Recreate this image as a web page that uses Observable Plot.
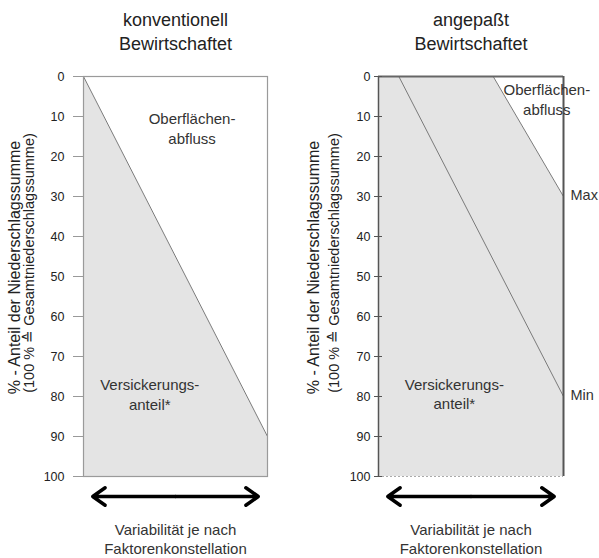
<!DOCTYPE html>
<html><head><meta charset="utf-8">
<script src="https://cdn.jsdelivr.net/npm/d3@7"></script>
<script src="https://cdn.jsdelivr.net/npm/@observablehq/plot@0.6"></script>
<style>
body{margin:0;background:#fff}
#chart{display:flex;width:599px;height:558px}
</style>
</head><body><div id="chart"></div>
<script>
// ---- data ----
const yTicks = d3.range(0, 101, 10);
const panelTitles = ["konventionell\nBewirtschaftet", "angepaßt\nBewirtschaftet"];
const yLabelLines = ["% - Anteil der Niederschlagssumme", "(100 % \u2259 Gesamtniederschlagssumme)"];
const xCaption = "Variabilität je nach\nFaktorenkonstellation";

// left panel: conventional management – boundary between infiltration and runoff
const konvX = [0, 1];
const konvY = [0, 90];

// right panel: adapted management – min and max boundaries
const minX = [0.11, 1];
const minY = [0, 80];
const maxX = [0.62, 1];
const maxY = [0, 30];
const boundLabels = ["Min", "Max"];

// variability arrow
const arrowEnds = [0.05, 0.95];
const arrowLevel = 105;

// area labels
const leftLabelText = ["Oberflächen-\nabfluss", "Versickerungs-\nanteil*"];
const leftLabelX = [0.59, 0.36];
const leftLabelY = [12.75, 79.25];
const rightLabelText = ["Oberflächen-\nabfluss", "Versickerungs-\nanteil*"];
const rightLabelX = [0.91, 0.41];
const rightLabelY = [5.6, 79.25];

// ---- helpers ----
const zip = (xs, ys) => xs.map((x, i) => ({x, y: ys[i]}));
const FILL = "#e4e4e4";
const LINE = "#7a7a7a";

function commonMarks(title, dx1, dx2) {
  return [
    Plot.text([title], {frameAnchor: "top", dy: -46, text: d => d, fontSize: 18, lineHeight: 1.33, lineAnchor: "middle", textAnchor: "middle", fill: "#222"}),
    Plot.text([yLabelLines[0]], {frameAnchor: "left", dx: dx1, dy: -9, rotate: -90, text: d => d, fontSize: 16, lineAnchor: "middle", textAnchor: "middle", fill: "#222"}),
    Plot.text([yLabelLines[1]], {frameAnchor: "left", dx: dx2, dy: -13.5, rotate: -90, text: d => d, fontSize: 14.5, lineAnchor: "middle", textAnchor: "middle", fill: "#222"}),
    Plot.text([xCaption], {frameAnchor: "bottom", dy: 61.5, text: d => d, fontSize: 15, lineHeight: 1.27, lineAnchor: "middle", textAnchor: "middle", fill: "#333"}),
    Plot.arrow(arrowEnds, {x1: () => d3.mean(arrowEnds), y1: () => arrowLevel, x2: d => d, y2: () => arrowLevel,
      stroke: "#000", strokeWidth: 3.5, headLength: 6.5, headAngle: 70})
  ];
}

// ---- left panel ----
const konv = zip(konvX, konvY);
const left = Plot.plot({
  width: 300, height: 558,
  marginLeft: 83, marginRight: 33, marginTop: 76, marginBottom: 82,
  x: {domain: [0, 1], axis: null},
  y: {domain: [0, 100], reverse: true, axis: null},
  style: {fontFamily: "'Liberation Sans', Arial, sans-serif", background: "#fff", color: "#222"},
  marks: [
    Plot.areaY(konv, {x: "x", y1: "y", y2: () => 100, fill: FILL}),
    Plot.line(konv, {x: "x", y: "y", stroke: LINE, strokeWidth: 1}),
    Plot.frame({stroke: "#9a9a9a", strokeWidth: 1.2}),
    Plot.axisY({ticks: yTicks, tickSize: 10, tickPadding: 9, stroke: "#999", fontSize: 12.5, fill: "#222", label: null}),
    Plot.text(leftLabelText, {x: (d, i) => leftLabelX[i], y: (d, i) => leftLabelY[i], text: d => d, fontSize: 15, lineHeight: 1.33, lineAnchor: "middle", fill: "#333"}),
    ...commonMarks(panelTitles[0], -69, -54)
  ]
});

// ---- right panel ----
const maxArea = [{x: 0, y: 0}, ...zip(maxX, maxY)];
const minLine = zip(minX, minY);
const maxLine = zip(maxX, maxY);
const right = Plot.plot({
  width: 299, height: 558,
  marginLeft: 78, marginRight: 36, marginTop: 76, marginBottom: 82,
  x: {domain: [0, 1], axis: null},
  y: {domain: [0, 100], reverse: true, axis: null},
  style: {fontFamily: "'Liberation Sans', Arial, sans-serif", background: "#fff", color: "#222"},
  marks: [
    Plot.areaY(maxArea, {x: "x", y1: "y", y2: () => 100, fill: FILL}),
    Plot.line(minLine, {x: "x", y: "y", stroke: LINE, strokeWidth: 1}),
    Plot.line(maxLine, {x: "x", y: "y", stroke: LINE, strokeWidth: 1}),
    Plot.ruleY([100], {stroke: "#aaa", strokeDasharray: "2,2"}),
    Plot.ruleY([0], {stroke: "#666", strokeWidth: 2}),
    Plot.ruleX([0], {stroke: "#555", strokeWidth: 1.5}),
    Plot.ruleX([1], {stroke: "#555", strokeWidth: 2}),
    Plot.axisY({ticks: yTicks, tickSize: 8, tickPadding: 4, dx: 4, stroke: "#555", fontSize: 12.5, fill: "#222", label: null}),
    Plot.text(rightLabelText, {x: (d, i) => rightLabelX[i], y: (d, i) => rightLabelY[i], text: d => d, fontSize: 15, lineHeight: 1.27, lineAnchor: "middle", fill: "#333"}),
    Plot.text(boundLabels, {x: () => 1, y: (d, i) => [minY[1], maxY[1]][i], dx: 7, dy: -1, text: d => d, textAnchor: "start", fontSize: 14.5, fill: "#333"}),
    ...commonMarks(panelTitles[1], -65, -44)
  ]
});

document.getElementById("chart").append(left, right);
</script>
</body></html>
